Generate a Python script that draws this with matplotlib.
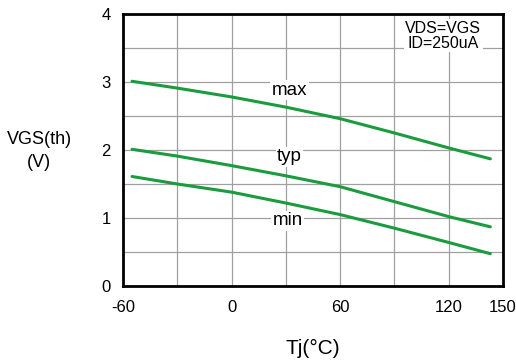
import numpy as np
import matplotlib
matplotlib.use("Agg")
import matplotlib.pyplot as plt

plt.rcParams['font.family'] = ['Liberation Sans', 'DejaVu Sans']
plt.rcParams['axes.unicode_minus'] = False

# Junction temperature points (°C) and threshold voltage (V)
tj = [-55, -30, 0, 30, 60, 90, 120, 143]
vth_max = [3.01, 2.91, 2.78, 2.63, 2.46, 2.25, 2.03, 1.87]
vth_typ = [2.01, 1.91, 1.77, 1.62, 1.46, 1.24, 1.02, 0.87]
vth_min = [1.61, 1.50, 1.38, 1.22, 1.05, 0.85, 0.64, 0.475]

xticks = [-60, 0, 60, 120, 150]
yticks = [0, 1, 2, 3, 4]

green = '#1a9c3e'

fig = plt.figure(figsize=(5.16, 3.6), dpi=100)
ax = fig.add_axes([0.2384, 0.2056, 0.7364, 0.7556])

for v in (vth_max, vth_typ, vth_min):
    ax.plot(tj, v, color=green, lw=2.2, solid_capstyle='round',
            solid_joinstyle='round', zorder=3)

ax.set_xlim(-60, 150)
ax.set_ylim(0, 4)
ax.set_xticks(xticks)
ax.set_yticks(yticks)
ax.set_xticks(np.arange(-30, 150, 30), minor=True)
ax.set_yticks(np.arange(0.5, 4, 0.5), minor=True)
ax.grid(True, which='both', color='#a0a0a0', lw=0.9, zorder=1)
ax.set_axisbelow(True)
ax.tick_params(which='both', length=0)
ax.tick_params(axis='x', labelsize=12, pad=10)
ax.tick_params(axis='y', labelsize=12, pad=9)
for s in ax.spines.values():
    s.set_linewidth(2)
    s.set_zorder(4)

box = dict(facecolor='white', edgecolor='none', pad=1)
ax.text(32, 2.88, 'max', fontsize=13.5, ha='center', va='center', bbox=box, zorder=2)
ax.text(32, 1.90, 'typ', fontsize=13.5, ha='center', va='center', bbox=box, zorder=2)
ax.text(31, 0.96, 'min', fontsize=13.5, ha='center', va='center', bbox=box, zorder=2)
ax.text(117, 3.68, 'VDS=VGS\nID=250uA', fontsize=11.5, ha='center', va='center',
        linespacing=1.0, bbox=box, zorder=2)

fig.text(39 / 516, 1 - 151 / 360, 'VGS(th)\n(V)', fontsize=13, ha='center', va='center',
         linespacing=1.45)
fig.text(313 / 516, 1 - 348 / 360, 'Tj(°C)', fontsize=15, ha='center', va='center')

fig.savefig('out.png', dpi=100)
